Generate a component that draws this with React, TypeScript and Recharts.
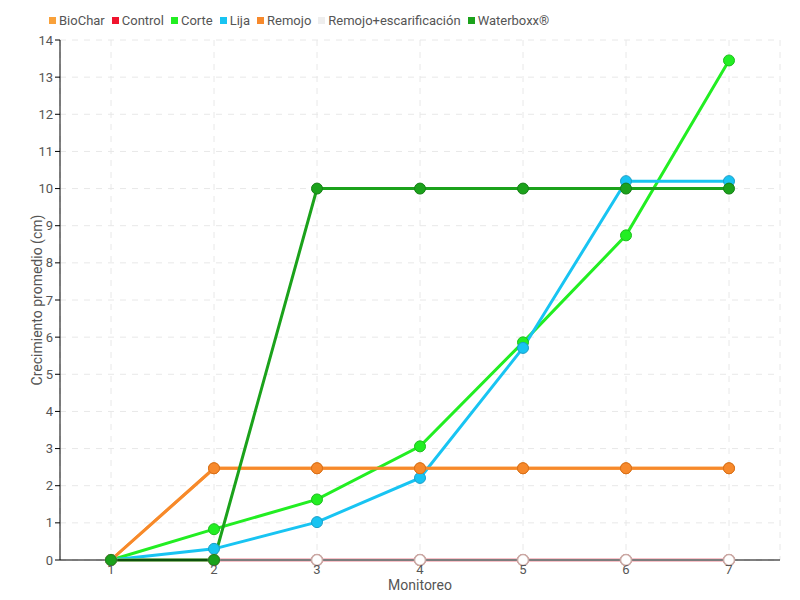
import { CartesianGrid, Line, LineChart, XAxis, YAxis } from "recharts"

const monitoreos = ["1", "2", "3", "4", "5", "6", "7"]
const biochar = [0, 2.47, 2.47, 2.47, 2.47, 2.47, 2.47]
const control = [0, 0, 0, 0, 0, 0, 0]
const corte = [0, 0.83, 1.63, 3.06, 5.86, 8.74, 13.45]
const lija = [0, 0.3, 1.02, 2.21, 5.71, 10.2, 10.2]
const remojo = [0, 2.47, 2.47, 2.47, 2.47, 2.47, 2.47]
const remojoEsc = [0, 0, 0, 0, 0, 0, 0]
const waterboxx = [0, 0, 10, 10, 10, 10, 10]
const yTicks = [0, 1, 2, 3, 4, 5, 6, 7, 8, 9, 10, 11, 12, 13, 14]

const data = monitoreos.map((m, i) => ({
  monitoreo: m,
  biochar: biochar[i],
  control: control[i],
  corte: corte[i],
  lija: lija[i],
  remojo: remojo[i],
  remojoEsc: remojoEsc[i],
  waterboxx: waterboxx[i],
}))

const series = [
  { key: "biochar", name: "BioChar", color: "#f9a13a", dot: "#e08a28" },
  { key: "control", name: "Control", color: "#f0142e", dot: "#c81024" },
  { key: "corte", name: "Corte", color: "#22ee22", dot: "#1cbf1c" },
  { key: "lija", name: "Lija", color: "#18c4f2", dot: "#1a9ec8" },
  { key: "remojo", name: "Remojo", color: "#f7892b", dot: "#d96f1a" },
  { key: "remojoEsc", name: "Remojo+escarificación", color: "#fbfbfb", dot: "#c9aaa5" },
  { key: "waterboxx", name: "Waterboxx®", color: "#1ba21b", dot: "#167f16" },
]

const font = "Roboto, sans-serif"

function LegendBox() {
  return (
    <div
      style={{
        position: "absolute",
        left: 49,
        top: 13,
        display: "flex",
        gap: 7,
        fontFamily: font,
        fontSize: 13,
        color: "#555",
        zIndex: 2,
      }}
    >
      {series.map((s) => (
        <span key={s.key} style={{ display: "flex", alignItems: "center" }}>
          <span
            style={{
              width: 7,
              height: 7,
              background: s.key === "remojoEsc" ? "#eeeeee" : s.color,
              marginRight: 3,
              display: "inline-block",
            }}
          />
          {s.name}
        </span>
      ))}
    </div>
  )
}

export default function App() {
  return (
    <div style={{ position: "absolute", left: 0, top: 0, width: 800, height: 600, background: "#fff" }}>
      <LegendBox />
      <LineChart width={800} height={600} data={data} margin={{ top: 40, right: 20, bottom: 0, left: 0 }}>
        <CartesianGrid stroke="#e8e8e8" strokeDasharray="6 6" />
        <XAxis
          dataKey="monitoreo"
          height={40}
          padding={{ left: 51, right: 51 }}
          stroke="#000"
          tickSize={5}
          tick={{ fill: "#555", fontSize: 13, fontFamily: font, dy: -2 }}
          label={{ value: "Monitoreo", position: "insideBottom", offset: 10, fill: "#555", fontSize: 14, fontFamily: font }}
        />
        <YAxis
          width={60}
          domain={[0, 14]}
          ticks={yTicks}
          interval={0}
          stroke="#000"
          tickSize={5}
          tick={{ fill: "#555", fontSize: 13, fontFamily: font }}
          label={{
            value: "Crecimiento promedio (cm)",
            angle: -90,
            position: "insideLeft",
            offset: 37,
            style: { textAnchor: "middle" },
            fill: "#555",
            fontSize: 14,
            fontFamily: font,
          }}
        />
        {series.map((s) => (
          <Line
            key={s.key}
            dataKey={s.key}
            name={s.name}
            type="linear"
            stroke={s.color}
            strokeWidth={3}
            dot={{ r: 5.5, fill: s.key === "remojoEsc" ? "#fff" : s.color, stroke: s.dot, strokeWidth: s.key === "remojoEsc" ? 1.5 : 1 }}
            activeDot={false}
            isAnimationActive={false}
          />
        ))}
      </LineChart>
    </div>
  )
}
